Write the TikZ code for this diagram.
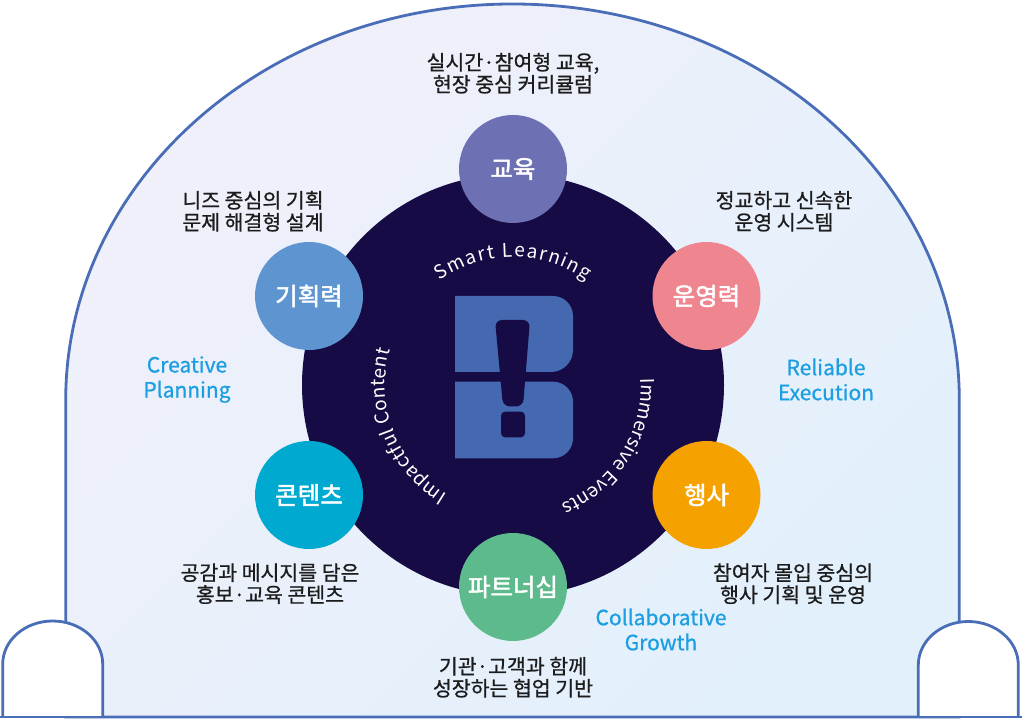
\documentclass[tikz,border=0pt]{standalone}
\usepackage{fontspec}
\setmainfont{Noto Sans CJK KR}
\newfontfamily\pointfamily{Noto Sans CJK KR}[FakeBold=2]
\newfontfamily\descfamily{Noto Sans CJK KR}[FakeBold=0.8]
\newfontfamily\keyfamily{Noto Sans CJK KR}[FakeBold=0.8]
\usepackage{xcolor}
\usepackage{tikz}
\usetikzlibrary{positioning, decorations.text}

\definecolor{frameBlue}{HTML}{4A6DB7}
\definecolor{bgTop}{HTML}{F0F0FA}
\definecolor{bgBottom}{HTML}{E2F0FB}
\definecolor{coreDark}{HTML}{170B45}
\definecolor{logoBlue}{HTML}{4569B0}
\definecolor{eduPurple}{HTML}{6E70B4}
\definecolor{opsPink}{HTML}{EE858F}
\definecolor{evtOrange}{HTML}{F5A100}
\definecolor{partGreen}{HTML}{5DBA8C}
\definecolor{contCyan}{HTML}{00A9D0}
\definecolor{planBlue}{HTML}{5E95D0}
\definecolor{keyBlue}{HTML}{1B9FE2}
\definecolor{descGray}{HTML}{1C1C1C}

\newcommand{\pointfont}{\pointfamily\fontsize{24.5}{24.5}\selectfont}
\newcommand{\descfont}{\descfamily\fontsize{20.5}{22}\selectfont}
\newcommand{\keyfont}{\keyfamily\fontsize{21}{25}\selectfont}
\newcommand{\arcfont}{\fontsize{19}{19}\selectfont}

\tikzset{frame-line/.style={draw=frameBlue, line width=2.8pt}}
\tikzset{core-circle/.style={circle, fill=coreDark, inner sep=0, minimum size=422pt}}
\tikzset{point-circle/.style={circle, inner sep=0, minimum size=108pt, text=white, font=\pointfont}}
\tikzset{desc-text/.style={align=center, inner sep=0, text=descGray, font=\descfont}}
\tikzset{keyword-text/.style={align=center, inner sep=0, text=keyBlue, font=\keyfont}}
\tikzset{arc-text/.style={decorate, decoration={text along path, text={|\color{white}\arcfont|#1}, text align={fit to path}}}}

\begin{document}
\begin{tikzpicture}[x=1pt, y=1pt]
            \useasboundingbox (0,0) rectangle (1022,720);

            % arch outline
            \draw[frame-line, top color=bgTop, bottom color=bgBottom, shading angle=45]
                (65.7,3) -- (65.7,320) arc[start angle=180, end angle=0, x radius=446.8, y radius=396] -- (959.3,3) -- cycle;
            \draw[frame-line, fill=white] (2.7,3) -- (2.7,56) arc[start angle=180, end angle=0, x radius=50, y radius=43] -- (102.7,3);
            \draw[frame-line, fill=white] (918.3,3) -- (918.3,55) arc[start angle=180, end angle=0, x radius=50, y radius=43.5] -- (1018.3,3);
            \draw[frame-line] (0,3) -- (1022,3);

            \node[core-circle] (core) at (513,335) {};

            % logo
            \fill[logoBlue] (455,348) -- (455,424) -- (553,424) arc[start angle=90, end angle=0, radius=20] -- (573,370) arc[start angle=0, end angle=-90, radius=22] -- cycle;
            \fill[logoBlue] (455,261.7) -- (455,338.3) -- (553,338.3) arc[start angle=90, end angle=0, radius=20] -- (573,281.7) arc[start angle=0, end angle=-90, radius=20] -- cycle;
            \fill[coreDark, rounded corners=7] (503,313.5) -- (523,313.5) -- (530,400) -- (495,400) -- cycle;
            \fill[coreDark, rounded corners=4] (501,282.7) rectangle (525,308.3);

            \path[arc-text={Smart Learning}] (core.center) ++(125:128) arc[start angle=125, end angle=55, radius=128];
            \path[arc-text={Immersive Events}] (core.center) ++(3:128) arc[start angle=3, end angle=-68, radius=128];
            \path[arc-text={Impactful Content}] (core.center) ++(239:128) arc[start angle=239, end angle=164, radius=128];

            \node[point-circle, fill=eduPurple] (edu) at (513,551) {교육};
            \node[point-circle, fill=opsPink] (ops) at (706.5,424) {운영력};
            \node[point-circle, fill=evtOrange] (evt) at (706.5,225) {행사};
            \node[point-circle, fill=partGreen] (part) at (513,133) {파트너십};
            \node[point-circle, fill=contCyan] (cont) at (309,225) {콘텐츠};
            \node[point-circle, fill=planBlue] (plan) at (309,424) {기획력};

            \node[desc-text, above=21pt of edu] (edu-desc) {실시간·참여형 교육,\\현장 중심 커리큘럼};
            \node[desc-text, above=10pt of ops, xshift=77.5pt] (ops-desc) {정교하고 신속한\\운영 시스템};
            \node[desc-text, below=14pt of evt, xshift=86.5pt] (evt-desc) {참여자 몰입 중심의\\행사 기획 및 운영};
            \node[desc-text, below=15.5pt of part] (part-desc) {기관·고객과 함께\\성장하는 협업 기반};
            \node[desc-text, below=14pt of cont, xshift=-39pt] (cont-desc) {공감과 메시지를 담은\\홍보·교육 콘텐츠};
            \node[desc-text, above=10pt of plan, xshift=-56pt] (plan-desc) {니즈 중심의 기획\\문제 해결형 설계};

            \node[keyword-text] (plan-key) at (187,340.5) {Creative\\Planning};
            \node[keyword-text] (ops-key) at (826,340.5) {Reliable\\Execution};
            \node[keyword-text] (part-key) at (661,90.5) {Collaborative\\Growth};

        \end{tikzpicture}
\end{document}
